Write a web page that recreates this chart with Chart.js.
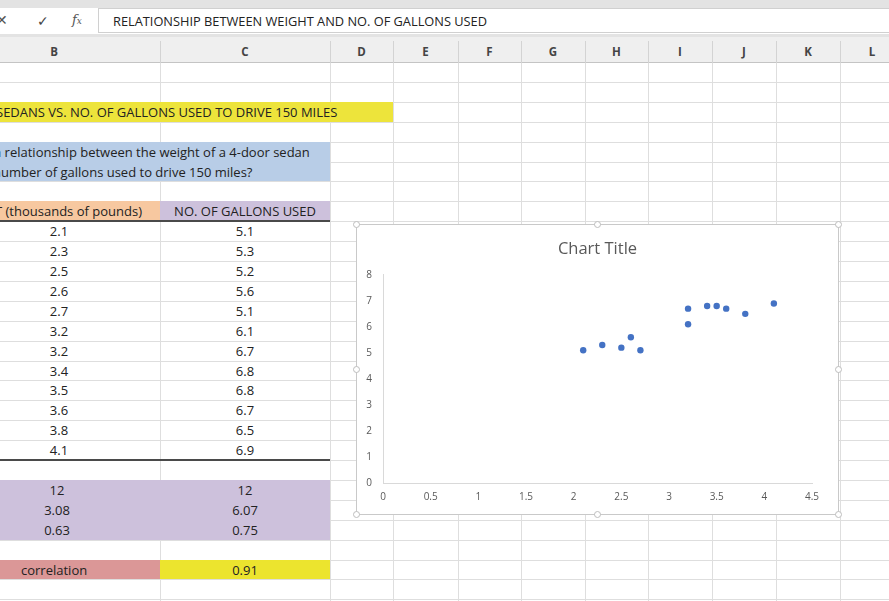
<!DOCTYPE html>
<html>
<head>
<meta charset="utf-8">
<script src="https://cdn.jsdelivr.net/npm/chart.js@4.4.0/dist/chart.umd.min.js"></script>
<style>
  body { margin: 0; width: 889px; height: 601px; overflow: hidden; background: #fff;
         font-family: "Open Sans", Lato, sans-serif; color: #222; position: relative; }
  .abs { position: absolute; }
  .txt { position: absolute; white-space: nowrap; font-size: 13px; line-height: 20px; }
  .hline { position: absolute; height: 1px; background: #dedede; }
  .vline { position: absolute; width: 1px; background: #dedede; }
  .handle { position: absolute; width: 7px; height: 7px; border-radius: 50%;
            background: #fff; border: 1px solid #bdbdbd; box-sizing: border-box; }
</style>
</head>
<body>

<!-- formula bar -->
<div class="abs" style="left:0;top:0;width:889px;height:8px;background:#e3e3e3"></div>
<div class="abs" style="left:0;top:8px;width:889px;height:26px;background:#fff"></div>
<div class="txt" style="left:-4px;top:10px;font-size:14px;color:#555">✕</div>
<div class="txt" style="left:37px;top:11px;font-size:14px;color:#444">✓</div>
<div class="txt" style="left:72px;top:10px;font-size:13px;font-style:italic;font-family:'DejaVu Serif',serif;color:#555">f<span style="font-size:9px">x</span></div>
<div class="abs" style="left:98px;top:8px;width:791px;height:25px;border-left:1px solid #d0d0d0;border-top:1px solid #d0d0d0;border-bottom:1px solid #d0d0d0;box-sizing:border-box"></div>
<div class="txt" id="formula" style="left:113px;top:11px;font-size:12.8px"></div>
<div class="abs" style="left:0;top:34px;width:889px;height:3px;background:#e3e3e3"></div>

<!-- column headers -->
<div class="abs" id="colHead" style="left:0;top:37px;width:889px;height:26px;background:#efefef;border-bottom:1px solid #c4c4c4;box-sizing:border-box"></div>

<div id="sheet"></div>

<!-- chart -->
<div class="abs" style="left:356px;top:224px;width:483px;height:291px;border:1px solid #c9c9c9;box-sizing:border-box;background:#fff">
  <canvas id="scatterChart" width="481" height="289" style="display:block"></canvas>
</div>
<div id="handles"></div>

<script>
// ---- data read from the sheet / chart ----
const formulaText = 'RELATIONSHIP BETWEEN WEIGHT AND NO. OF GALLONS USED';
const columnLetters = ['B', 'C', 'D', 'E', 'F', 'G', 'H', 'I', 'J', 'K', 'L'];
const weights = [2.1, 2.3, 2.5, 2.6, 2.7, 3.2, 3.2, 3.4, 3.5, 3.6, 3.8, 4.1];
const gallons = [5.1, 5.3, 5.2, 5.6, 5.1, 6.1, 6.7, 6.8, 6.8, 6.7, 6.5, 6.9];
const weightStats = ['12', '3.08', '0.63'];
const gallonStats = ['12', '6.07', '0.75'];
const correlation = '0.91';
const xTicks = [0, 0.5, 1, 1.5, 2, 2.5, 3, 3.5, 4, 4.5];
const yTicks = [0, 1, 2, 3, 4, 5, 6, 7, 8];

// ---- sheet layout ----
const colEdges = [-52, 160, 330, 393, 458, 521, 585, 648, 712, 776, 840, 904];
const rowTop = 63, rowH = 19.9;
const rowY = k => Math.round(rowTop + rowH * k);
const sheet = document.getElementById('sheet');

function add(html) { sheet.insertAdjacentHTML('beforeend', html); }

document.getElementById('formula').textContent = formulaText;

// column header letters and separators
columnLetters.forEach((l, i) => {
  const x0 = colEdges[i], x1 = colEdges[i + 1];
  add(`<div class="txt" style="left:${x0}px;width:${x1 - x0}px;text-align:center;top:42px;font-size:11.5px;font-weight:700;color:#444">${l}</div>`);
  if (i > 0) add(`<div class="vline" style="left:${x0}px;top:41px;height:22px;background:#d3d3d3"></div>`);
});

// gridlines
for (let k = 1; rowY(k) < 601; k++) {
  add(`<div class="hline" style="left:0;top:${rowY(k) - 1}px;width:889px"></div>`);
}
colEdges.slice(1, -1).forEach(x => {
  add(`<div class="vline" style="left:${x}px;top:63px;height:538px"></div>`);
});

function fill(x0, k0, x1, k1, bg) {
  add(`<div class="abs" style="left:${x0}px;top:${rowY(k0) - 1}px;width:${x1 - x0}px;height:${rowY(k1) - rowY(k0)}px;background:${bg}"></div>`);
}
function text(x0, x1, k, str, extra) {
  add(`<div class="txt" style="left:${x0}px;width:${x1 - x0}px;top:${rowY(k) - 1}px;text-align:center;overflow:hidden;${extra || ''}">${str}</div>`);
}

// title cell
fill(0, 2, 393, 3, '#ede43b');
add(`<div class="txt" style="left:-4px;top:${rowY(2) - 1}px">SEDANS VS. NO. OF GALLONS USED TO DRIVE 150 MILES</div>`);

// question cell
fill(0, 4, 330, 6, '#b8cde7');
add(`<div class="txt" style="left:-6px;top:${rowY(4) - 1}px">a relationship between the weight of a 4-door sedan</div>`);
add(`<div class="txt" style="left:-7px;top:${rowY(5) - 1}px">number of gallons used to drive 150 miles?</div>`);

// column headings
fill(0, 7, 160, 8, '#f7c8a0');
fill(160, 7, 330, 8, '#cdc1dc');
add(`<div class="txt" style="left:-5px;top:${rowY(7) - 1}px">T (thousands of pounds)</div>`);
text(160, 330, 7, 'NO. OF GALLONS USED');
add(`<div class="abs" style="left:0;top:${rowY(8) - 2}px;width:330px;height:2px;background:#4a4a4a"></div>`);

// data rows
weights.forEach((w, i) => {
  text(-42, 160, 8 + i, w.toFixed(1));
  text(160, 330, 8 + i, gallons[i].toFixed(1));
});
add(`<div class="abs" style="left:0;top:${rowY(20) - 2}px;width:330px;height:2px;background:#4a4a4a"></div>`);

// summary stats
fill(0, 21, 330, 24, '#cdc1dc');
weightStats.forEach((s, i) => {
  text(-46, 160, 21 + i, s);
  text(160, 330, 21 + i, gallonStats[i]);
});

// correlation
fill(0, 25, 160, 26, '#db9797');
fill(160, 25, 330, 26, '#ece42e');
add(`<div class="txt" style="left:21px;top:${rowY(25) - 1}px">correlation</div>`);
text(160, 330, 25, correlation);

// chart selection handles
const hx = [356, 597, 838], hy = [224, 369, 514];
hx.forEach((x, i) => hy.forEach((y, j) => {
  if (i === 1 && j === 1) return;
  document.getElementById('handles').insertAdjacentHTML('beforeend',
    `<div class="handle" style="left:${x - 3}px;top:${y - 3}px"></div>`);
}));

// ---- chart ----
const chartFont = '"Open Sans", Lato, sans-serif';
const tickFont = { family: chartFont, size: 10 };

new Chart(document.getElementById('scatterChart'), {
  type: 'scatter',
  data: {
    datasets: [{
      data: weights.map((w, i) => ({ x: w, y: gallons[i] })),
      backgroundColor: '#4472c4',
      borderColor: '#4472c4',
      borderWidth: 0,
      pointRadius: 3.2
    }]
  },
  options: {
    responsive: false,
    animation: false,
    layout: { padding: 0 },
    plugins: {
      legend: { display: false },
      tooltip: { enabled: false },
      title: {
        display: true,
        text: 'Chart Title',
        color: '#595959',
        font: { family: chartFont, size: 16.5, weight: 'normal' },
        padding: { top: 14, bottom: 16 }
      }
    },
    scales: {
      x: {
        type: 'linear',
        min: xTicks[0],
        max: xTicks[xTicks.length - 1],
        afterBuildTicks: s => { s.ticks = xTicks.map(v => ({ value: v })); },
        afterFit: s => { s.height = 31; },
        grid: { display: false, drawTicks: false },
        border: { display: true, color: '#d9d9d9' },
        ticks: { color: '#595959', font: tickFont, padding: 8, maxRotation: 0, callback: v => String(v) }
      },
      y: {
        min: yTicks[0],
        max: yTicks[yTicks.length - 1],
        afterBuildTicks: s => { s.ticks = yTicks.map(v => ({ value: v })); },
        afterFit: s => { s.width = 26; },
        grid: { display: false, drawTicks: false },
        border: { display: true, color: '#d9d9d9' },
        ticks: { color: '#595959', font: tickFont, padding: 11, callback: v => String(v) }
      },
      // empty right-hand margin so the plot ends where Excel's does
      yRight: {
        position: 'right',
        afterFit: s => { s.width = 26; },
        grid: { display: false, drawTicks: false },
        border: { display: false },
        ticks: { display: false }
      }
    }
  }
});
</script>
</body>
</html>
